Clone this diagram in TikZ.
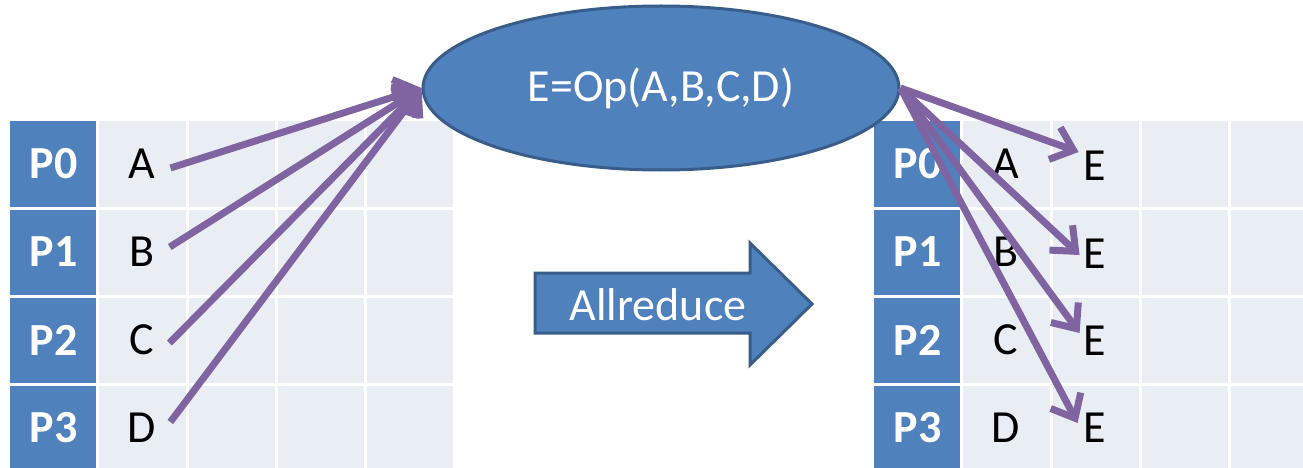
\documentclass[tikz,border=0pt]{standalone}
\usepackage{fontspec}
\setmainfont{Carlito}
\usetikzlibrary{arrows.meta,shapes.geometric,calc}
\definecolor{oblue}{HTML}{4F81BD}
\definecolor{oborder}{HTML}{385D8A}
\definecolor{olight}{HTML}{E9EDF4}
\definecolor{opurple}{HTML}{8064A2}
\begin{document}
\begin{tikzpicture}[x=1pt,y=-1pt,
  big/.style={font=\fontsize{46}{50}\selectfont, inner sep=0pt},
  plabel/.style={inner sep=0pt, font=\fontsize{46}{50}\selectfont\bfseries, text=white},
  cellt/.style={big, text=black},
  gridline/.style={white, line width=3pt},
  flow/.style={opurple, line width=7pt, -{Straight Barb[length=20pt,width=34pt]}},
]
\useasboundingbox (0,0) rectangle (1303,468);
% ---- left table
\fill[oblue] (10,121) rectangle (97.5,468);
\fill[olight] (97.5,121) rectangle (453,468);
\foreach \x in {97.5,187.5,276.5,365.5} \draw[gridline] (\x,121) -- (\x,468);
\foreach \y in {208,296,384} \draw[gridline] (10,\y) -- (453,\y);
% ---- right table
\fill[oblue] (874,121) rectangle (961.5,468);
\fill[olight] (961.5,121) rectangle (1303,468);
\foreach \x in {961.5,1051,1140,1229.5} \draw[gridline] (\x,121) -- (\x,468);
\foreach \y in {208,296,384} \draw[gridline] (874,\y) -- (1303,\y);
% ---- labels
\foreach \i/\y in {0/164,1/252,2/340,3/428}{
  \node[plabel] (lp\i) at (53.5,\y) {P\i};
  \node[plabel] (rp\i) at (917.5,\y) {P\i};
}
\node[cellt] (la) at (142,164) {A};
\node[cellt] (lb) at (142,252) {B};
\node[cellt] (lc) at (142,340) {C};
\node[cellt] (ld) at (142,428) {D};
\node[cellt] (ra) at (1006,164) {A};
\node[cellt] (rb) at (1006,252) {B};
\node[cellt] (rc) at (1006,340) {C};
\node[cellt] (rd) at (1006,428) {D};
\node[cellt] (e1) at (1095,166) {E};
\node[cellt] (e2) at (1095,254) {E};
\node[cellt] (e3) at (1095,341) {E};
\node[cellt] (e4) at (1095,428) {E};
% ---- ellipse
\node[ellipse, fill=oblue, draw=oborder, line width=3pt, minimum width=476pt,
      minimum height=164pt, inner sep=0pt, text=white,
      font=\fontsize{46}{50}\selectfont] (op) at (661,88) {E=Op(A,B,C,D)};
% ---- block arrow
\filldraw[fill=oblue, draw=oborder, line width=3pt, line join=miter]
  (535,273) -- (750,273) -- (750,243) -- (812,304) -- (750,365) -- (750,333) -- (535,333) -- cycle;
\node[big, text=white] (allr) at (658,305) {Allreduce};
% ---- connectors
\draw[flow] ($(la.east)+(15,4)$) -- (op.west);
\draw[flow] ($(lb.east)+(15,-5)$) -- (op.west);
\draw[flow] ($(lc.east)+(15,3)$) -- (op.west);
\draw[flow] ($(ld.east)+(14,-6)$) -- (op.west);
\draw[flow] (op.east) -- ($(e1.west)+(-5,-14)$);
\draw[flow] (op.east) -- ($(e2.west)+(-4,1)$);
\draw[flow] (op.east) -- ($(e3.west)+(-4,-8)$);
\draw[flow] (op.east) -- ($(e4.west)+(-6,-5)$);
\end{tikzpicture}
\end{document}
